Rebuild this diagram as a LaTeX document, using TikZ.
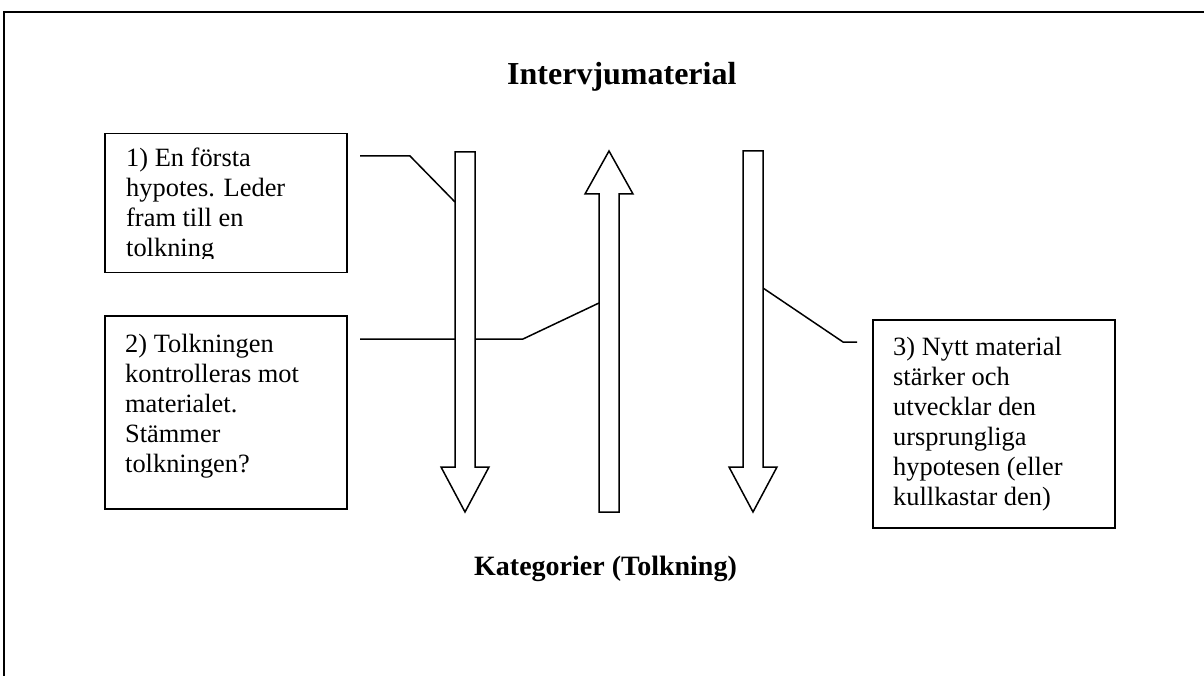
\documentclass[tikz,border=0pt]{standalone}
\usepackage{fontspec}
\setmainfont{Liberation Serif}
\begin{document}
\begin{tikzpicture}[x=1pt,y=-1pt]
\tikzset{
 frameline/.style={draw, line width=1.8pt},
 box/.style={draw, line width=1.5pt, anchor=north west, inner sep=0pt},
 txt/.style={anchor=north west, inner sep=0pt, align=left, font=\fontsize{26.4}{30}\selectfont},
 ttlA/.style={anchor=base west, inner sep=0pt, font=\bfseries\fontsize{32}{36}\selectfont},
 ttlB/.style={anchor=base west, inner sep=0pt, font=\bfseries\fontsize{28}{32}\selectfont},
 arr/.style={draw, line width=1.5pt, line join=miter, fill=white},
 callout/.style={draw, line width=1.5pt},
}
\useasboundingbox (0,0) rectangle (1204,676);
\fill[white] (0,0) rectangle (1204,676);
% outer frame
\draw[frameline] (4,676) -- (4,12) -- (1204,12);

% titles
\node[ttlA] (top) at (507,85) {Intervjumaterial};
\node[ttlB] (bottom) at (474,575) {Kategorier (Tolkning)};

% boxes
\node[box, minimum width=242, minimum height=139] (b1) at (104,133) {};
\node[box, minimum width=242, minimum height=193] (b2) at (104,315) {};
\node[box, minimum width=242, minimum height=208] (b3) at (872,319) {};

\begin{scope}
\clip (104,133) rectangle (346,259);
\node[txt] (t1) at (126,145) {\strut 1) En första\\hypotes. Leder\\fram till en\\tolkning};
\end{scope}
\node[txt] (t2) at (125,331) {\strut 2) Tolkningen\\kontrolleras mot\\materialet.\\Stämmer\\tolkningen?};
\node[txt] (t3) at (893,334) {\strut 3) Nytt material\\stärker och\\utvecklar den\\ursprungliga\\hypotesen (eller\\kullkastar den)};

% callout coordinates
\coordinate (c1a) at (360,156);
\coordinate (c1b) at (410,156);
\coordinate (c1c) at (455,202);
\coordinate (c2a) at (360,339);
\coordinate (c2b) at (523,339);
\coordinate (c2c) at (599,303);
\coordinate (c3a) at (763,288);
\coordinate (c3b) at (843,342);
\coordinate (c3c) at (857,342);

\draw[callout] (c1a) -- (c1b) -- (c1c);
\draw[callout] (c2a) -- (c2b) -- (c2c);
\draw[callout] (c3a) -- (c3b) -- (c3c);

% block arrows
\draw[arr] (455,152) -- (475,152) -- (475,467) -- (489,467) -- (465,512) -- (441,467) -- (455,467) -- cycle;
\draw[arr] (599,512) -- (619,512) -- (619,194) -- (633,194) -- (609,151) -- (585,194) -- (599,194) -- cycle;
\draw[arr] (743,151) -- (763,151) -- (763,467) -- (777,467) -- (753,512) -- (729,467) -- (743,467) -- cycle;
\end{tikzpicture}
\end{document}
